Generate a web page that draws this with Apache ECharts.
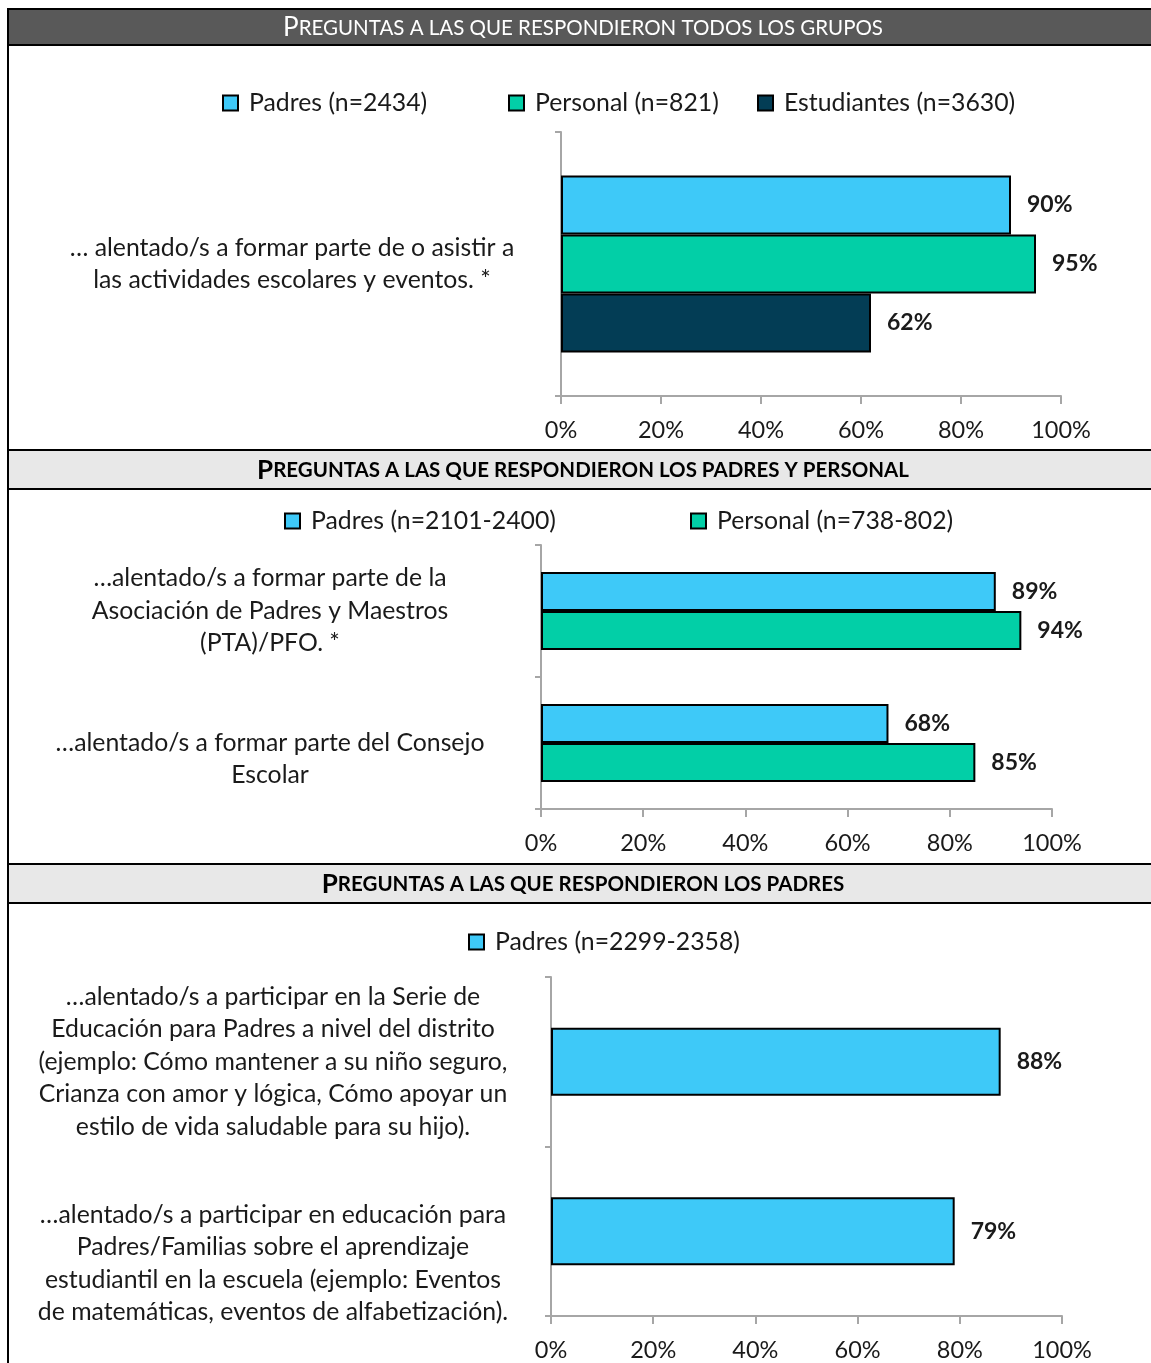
<!DOCTYPE html>
<html>
<head>
<meta charset="utf-8">
<script src="https://cdn.jsdelivr.net/npm/echarts@6/dist/echarts.min.js"></script>
<style>
  html, body { margin: 0; padding: 0; background: #fff; }
  #chart { width: 1151px; height: 1363px; }
</style>
</head>
<body>
<div id="chart"></div>
<script>
// ---- data ----
const cats1 = ['… alentado/s a formar parte de o asistir a\nlas actividades escolares y eventos. *'];
const names1 = ['Padres (n=2434)', 'Personal (n=821)', 'Estudiantes (n=3630)'];
const padres1 = [90];
const personal1 = [95];
const estudiantes1 = [62];

const cats2 = [
  '…alentado/s a formar parte de la\nAsociación de Padres y Maestros\n(PTA)/PFO. *',
  '…alentado/s a formar parte del Consejo\nEscolar'
];
const names2 = ['Padres (n=2101-2400)', 'Personal (n=738-802)'];
const padres2 = [89, 68];
const personal2 = [94, 85];

const cats3 = [
  '…alentado/s a participar en la Serie de\nEducación para Padres a nivel del distrito\n(ejemplo: Cómo mantener a su niño seguro,\nCrianza con amor y lógica, Cómo apoyar un\nestilo de vida saludable para su hijo).',
  '…alentado/s a participar en educación para\nPadres/Familias sobre el aprendizaje\nestudiantil en la escuela (ejemplo: Eventos\nde matemáticas, eventos de alfabetización).'
];
const names3 = ['Padres (n=2299-2358)'];
const padres3 = [88, 79];

const xTicks = [0, 20, 40, 60, 80, 100];

const headers = [
  'Preguntas a las que respondieron todos los grupos',
  'Preguntas a las que respondieron los padres y personal',
  'Preguntas a las que respondieron los padres'
];

// ---- style ----
const FONT = 'Lato, "Open Sans", sans-serif';
const FS = 24.8;
const TXT = '#1a1a1a';
const AXIS = '#a6a6a6';
const C_PADRES = '#3ec9f8';
const C_PERSONAL = '#02cfa7';
const C_EST = '#033d55';

const chart = echarts.init(document.getElementById('chart'));

// small caps: first letter large, rest uppercase small
function smallCaps(s) {
  return '{a|' + s[0].toUpperCase() + '}{b|' + s.slice(1).toUpperCase() + '}';
}

function headerBlock(y, h, text, dark) {
  const w = dark ? 'normal' : 'bold';
  const c = dark ? '#fff' : '#000';
  return [
    {
      type: 'rect',
      shape: { x: 8, y: y, width: 1150, height: h },
      style: { fill: dark ? '#595959' : '#e8e8e8', stroke: '#000', lineWidth: 2 },
      z: 10
    },
    {
      type: 'text',
      x: 583, y: y + h / 2 + 1,
      style: {
        text: smallCaps(text),
        align: 'center',
        verticalAlign: 'middle',
        rich: {
          a: { fontFamily: FONT, fontSize: 26, fontWeight: w, fill: c },
          b: { fontFamily: FONT, fontSize: 20.5, fontWeight: w, fill: c }
        }
      },
      z: 11
    }
  ];
}

function xAxisCfg(idx) {
  return {
    type: 'value', gridIndex: idx, min: 0, max: 100, interval: 20,
    axisLine: { show: true, lineStyle: { color: AXIS, width: 2 } },
    axisTick: { show: true, length: 8, lineStyle: { color: AXIS, width: 2 } },
    splitLine: { show: false },
    axisLabel: {
      margin: 22, color: TXT, fontFamily: FONT, fontSize: 23.5,
      formatter: function (v) { return xTicks.indexOf(v) >= 0 ? v + '%' : ''; }
    }
  };
}

// leading empty lines push a label down to where the original sits
function yAxisCfg(idx, cats, margin, pad) {
  return {
    type: 'category', gridIndex: idx, data: cats, inverse: true,
    axisLine: { show: true, lineStyle: { color: AXIS, width: 2 } },
    axisTick: { show: true, length: 6, lineStyle: { color: AXIS, width: 2 } },
    axisLabel: {
      interval: 0, margin: margin, align: 'center', color: TXT,
      fontFamily: FONT, fontSize: FS, lineHeight: 32.5,
      formatter: function (v, i) { return '\n'.repeat(pad[i] || 0) + v; }
    }
  };
}

function barSeries(name, data, color, idx, bw) {
  return {
    name: name, type: 'bar', xAxisIndex: idx, yAxisIndex: idx, data: data,
    barWidth: bw, barGap: '0%',
    itemStyle: { color: color, borderColor: '#000', borderWidth: 2 },
    label: {
      show: true, position: 'right', distance: 16, formatter: '{c}%',
      color: TXT, fontFamily: FONT, fontSize: 23, fontWeight: 'bold'
    }
  };
}

function legendCfg(name, left, top) {
  return {
    data: [name], left: left, top: top, padding: 0,
    itemWidth: 15, itemHeight: 15, icon: 'rect',
    selectedMode: false,
    textStyle: { color: TXT, fontFamily: FONT, fontSize: FS, lineHeight: 26, padding: [0, 0, 0, 6] }
  };
}

const option = {
  animation: false,
  backgroundColor: '#fff',
  grid: [
    { left: 561, top: 132, width: 500, height: 264 },
    { left: 541, top: 545, width: 511, height: 264 },
    { left: 551, top: 977, width: 511, height: 339 }
  ],
  xAxis: [xAxisCfg(0), xAxisCfg(1), xAxisCfg(2)],
  yAxis: [
    yAxisCfg(0, cats1, 269, [0]),
    yAxisCfg(1, cats2, 271, [0, 1]),
    yAxisCfg(2, cats3, 278, [0, 2])
  ],
  legend: [
    legendCfg(names1[0], 222, 90),
    legendCfg(names1[1], 508, 90),
    legendCfg(names1[2], 757, 90),
    legendCfg(names2[0], 284, 508),
    legendCfg(names2[1], 690, 508),
    legendCfg(names3[0], 468, 929)
  ],
  series: [
    barSeries(names1[0], padres1, C_PADRES, 0, 59),
    barSeries(names1[1], personal1, C_PERSONAL, 0, 59),
    barSeries(names1[2], estudiantes1, C_EST, 0, 59),
    barSeries(names2[0], padres2, C_PADRES, 1, 39),
    barSeries(names2[1], personal2, C_PERSONAL, 1, 39),
    barSeries(names3[0], padres3, C_PADRES, 2, 68)
  ],
  graphic: [
    { type: 'line', shape: { x1: 8, y1: 9, x2: 8, y2: 1363 }, style: { stroke: '#000', lineWidth: 2 }, z: 12 }
  ].concat(
    headerBlock(9, 36, headers[0], true),
    headerBlock(450, 39, headers[1], false),
    headerBlock(864, 39, headers[2], false)
  )
};

chart.setOption(option);
</script>
</body>
</html>
